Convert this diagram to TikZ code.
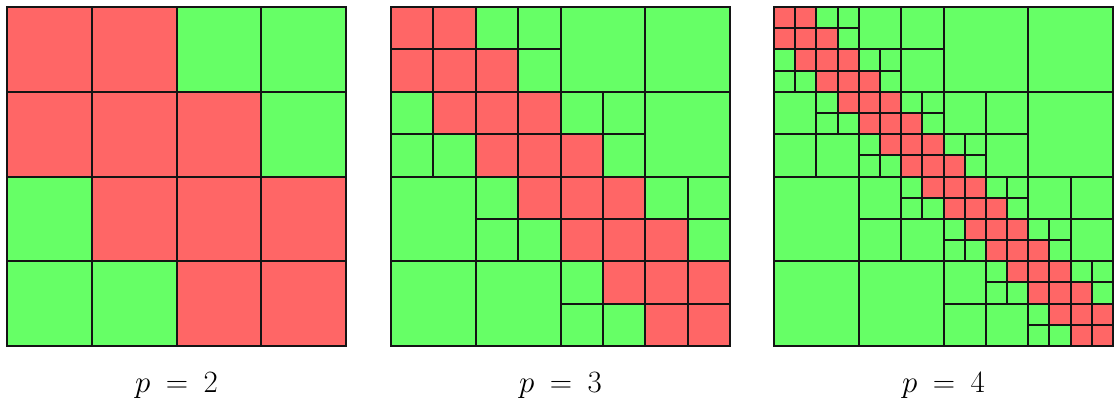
\documentclass[tikz,border=0pt]{standalone}
\definecolor{redc}{RGB}{255,102,102}
\definecolor{greenc}{RGB}{102,255,102}
\definecolor{linec}{RGB}{20,20,20}
\tikzset{
  fillred/.style={fill=redc},
  fillgreen/.style={fill=greenc},
  edgered/.style={draw=linec,line width=2bp},
  edgegreen/.style={draw=linec,line width=2bp},
  lbl/.style={anchor=base,font=\fontsize{24.88}{30}\selectfont,scale=1.25,transform shape}
}
% #1 = left x, #2 = p, #3 = prefix of styles (fill / edge)
\newcommand\hmatblock[3]{%
  \foreach \lev in {1,...,#2}{%
    \pgfmathtruncatemacro\nn{2^\lev}%
    \pgfmathtruncatemacro\nm{\nn-1}%
    \foreach \i in {0,...,\nm}{%
      \foreach \j in {0,...,\nm}{%
        \pgfmathtruncatemacro\dd{abs(\i-\j)}%
        \pgfmathtruncatemacro\pd{abs(floor(\i/2)-floor(\j/2))}%
        \pgfmathtruncatemacro\xa{round(#1+\j*339/\nn)}%
        \pgfmathtruncatemacro\xb{round(#1+(\j+1)*339/\nn)}%
        \pgfmathtruncatemacro\ya{round(7+\i*339/\nn)}%
        \pgfmathtruncatemacro\yb{round(7+(\i+1)*339/\nn)}%
        \ifnum\dd>1 \ifnum\pd<2
          \path[#3green] (\xa,\ya) rectangle (\xb,\yb);
        \fi\fi
        \ifnum\lev=#2 \ifnum\dd<2
          \path[#3red] (\xa,\ya) rectangle (\xb,\yb);
        \fi\fi
      }%
    }%
  }%
}
\begin{document}
\begin{tikzpicture}[x=1bp,y=-1bp]
\useasboundingbox (0,0) rectangle (1114,412);
\hmatblock{7}{2}{fill}
\hmatblock{391}{3}{fill}
\hmatblock{774}{4}{fill}
\hmatblock{7}{2}{edge}
\hmatblock{391}{3}{edge}
\hmatblock{774}{4}{edge}
\node[lbl] (l2) at (176.5,392) {$p\mskip4mu=\mskip4mu2$};
\node[lbl] (l3) at (560.5,392) {$p\mskip4mu=\mskip4mu3$};
\node[lbl] (l4) at (943.5,392) {$p\mskip4mu=\mskip4mu4$};
\end{tikzpicture}
\end{document}
